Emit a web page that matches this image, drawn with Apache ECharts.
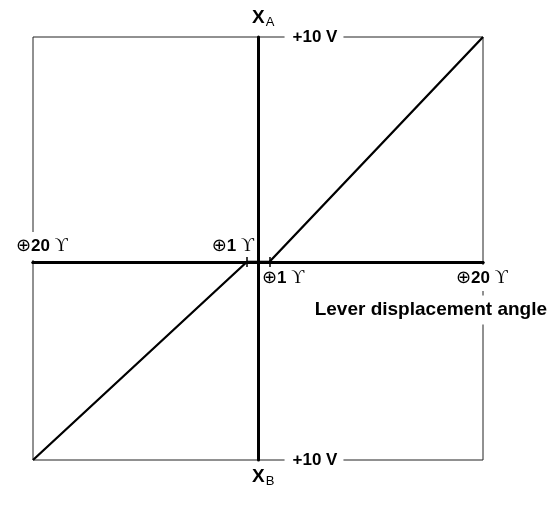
<!DOCTYPE html>
<html>
<head>
<meta charset="utf-8">
<script src="https://cdn.jsdelivr.net/npm/echarts@6/dist/echarts.min.js"></script>
<style>
    html, body { margin: 0; padding: 0; background: #fff; }
    #chart { width: 559px; height: 518px; }
</style>
</head>
<body>
<div id="chart"></div>
<script>
"use strict";
// lever angle range (degrees) and output range (V)
var angleMin = -20;
var angleMax = 20;
var voltMax = 10;
var deadBand = [-1, 1];

// output X_A (upper half) and X_B (lower half, drawn downwards)
var outputA = [[-1, 0], [1, 0], [20, 10]];
var outputB = [[-20, 10], [-1, 0], [1, 0]];

var axisName = "Lever displacement angle";
var voltLabel = "+10 V";

var chart = echarts.init(document.getElementById("chart"));

var boldFont = "'Liberation Sans', Arial, sans-serif";
var richSym = {
    c: {fontFamily: "'DejaVu Sans'", fontSize: 18, fontWeight: "normal", color: "#000"},
    b: {fontFamily: boldFont, fontSize: 17, fontWeight: "bold", color: "#000"},
    u: {fontFamily: "'Liberation Serif', 'DejaVu Serif'", fontSize: 18, fontWeight: "normal", color: "#000"}
};

function angleText(v) {
    return "{c|⊕}{b|" + Math.abs(v) + "} {u|ϒ}";
}

function makeXAxis(gridIndex, position) {
    return {
        gridIndex: gridIndex,
        type: "value",
        min: angleMin,
        max: angleMax,
        position: position,
        axisLine: {show: true, onZero: false, lineStyle: {color: "#000", width: 3}},
        axisTick: {show: true, inside: true, length: 5, customValues: deadBand,
            lineStyle: {color: "#000", width: 1.5}},
        axisLabel: {show: false},
        splitLine: {show: false}
    };
}

function makeYAxis(gridIndex, inverse) {
    return {
        gridIndex: gridIndex,
        type: "value",
        min: 0,
        max: voltMax,
        inverse: inverse,
        axisLine: {show: true, onZero: true, lineStyle: {color: "#000", width: 3}},
        axisTick: {show: false},
        axisLabel: {show: false},
        splitLine: {show: false}
    };
}

function lineSeries(idx, data) {
    return {
        type: "line",
        xAxisIndex: idx,
        yAxisIndex: idx,
        data: data,
        showSymbol: false,
        lineStyle: {color: "#000", width: 2.3},
        z: 3
    };
}

var gridStyle = {show: true, borderColor: "#222", borderWidth: 1, backgroundColor: "transparent"};

chart.setOption({
    animation: false,
    grid: [
        Object.assign({left: 33, right: 76, top: 37, height: 225}, gridStyle),
        Object.assign({left: 33, right: 76, top: 262, height: 198}, gridStyle)
    ],
    xAxis: [makeXAxis(0, "bottom"), makeXAxis(1, "top")],
    yAxis: [makeYAxis(0, false), makeYAxis(1, true)],
    series: [lineSeries(0, outputA), lineSeries(1, outputB)]
});

// labels anchored on the axes
var pOrigin = chart.convertToPixel({gridIndex: 0}, [0, 0]);
var pTop = chart.convertToPixel({gridIndex: 0}, [0, voltMax]);
var pBottom = chart.convertToPixel({gridIndex: 1}, [0, voltMax]);
var pLeft = chart.convertToPixel({gridIndex: 0}, [angleMin, 0]);
var pRight = chart.convertToPixel({gridIndex: 0}, [angleMax, 0]);

function label(text, x, y, align, vAlign, extra) {
    var style = {
        text: text,
        x: x,
        y: y,
        align: align,
        verticalAlign: vAlign,
        font: "bold 17px " + boldFont,
        fill: "#000",
        rich: richSym
    };
    if (extra) {
        Object.assign(style, extra);
    }
    return {type: "text", z: 10, style: style};
}

var whiteBox = {backgroundColor: "#fff"};
var xSub = {
    x: {fontFamily: boldFont, fontSize: 19, fontWeight: "bold", color: "#000"},
    s: {fontFamily: boldFont, fontSize: 13, fontWeight: "normal", color: "#000", padding: [10, 0, 0, 1]}
};

chart.setOption({
    graphic: [
        label("{x|X}{s|A}", pOrigin[0] - 6, pTop[1] - 8, "left", "bottom", {rich: xSub}),
        label("{x|X}{s|B}", pOrigin[0] - 6, pBottom[1] + 5, "left", "top", {rich: xSub}),
        label(voltLabel, pOrigin[0] + 56, pTop[1], "center", "middle",
            {backgroundColor: "#fff", padding: [3, 6, 3, 8]}),
        label(voltLabel, pOrigin[0] + 56, pBottom[1], "center", "middle",
            {backgroundColor: "#fff", padding: [3, 6, 3, 8]}),
        label(angleText(angleMin), pLeft[0] - 19, pOrigin[1] - 16, "left", "middle",
            Object.assign({padding: [5, 2]}, whiteBox)),
        label(angleText(deadBand[0]), pOrigin[0] - 4, pOrigin[1] - 16, "right", "middle"),
        label(angleText(deadBand[1]), pOrigin[0] + 4, pOrigin[1] + 16, "left", "middle"),
        label(angleText(angleMax), pRight[0] - 29, pOrigin[1] + 16, "left", "middle",
            Object.assign({padding: [4, 2]}, whiteBox)),
        label(axisName, pRight[0] + 66, pOrigin[1] + 48, "right", "middle",
            {backgroundColor: "#fff", padding: [5, 2], font: "bold 19px " + boldFont})
    ]
});
</script>
</body>
</html>
